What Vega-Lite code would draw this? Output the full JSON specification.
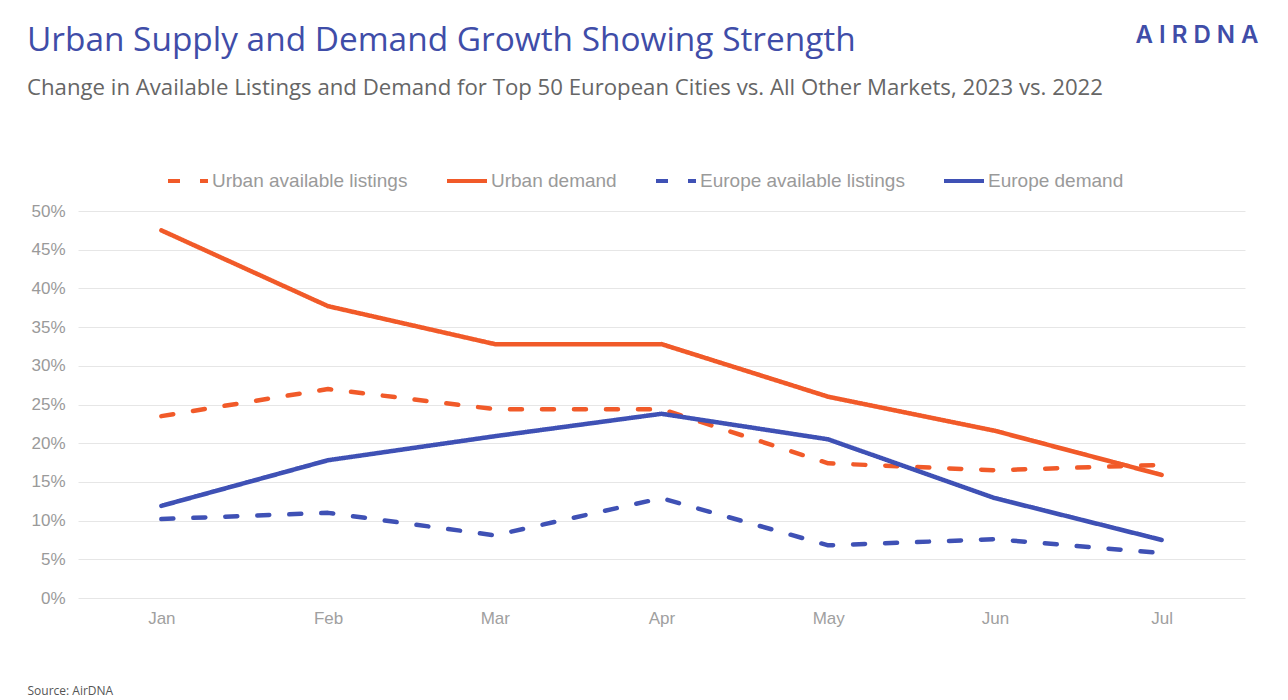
{
  "$schema": "https://vega.github.io/schema/vega-lite/v6.json",
  "width": 1167,
  "height": 387,
  "autosize": "none",
  "padding": {"left": 78, "top": 211, "right": 43, "bottom": 102},
  "background": "white",
  "title": {
    "text": "Urban Supply and Demand Growth Showing Strength",
    "subtitle": "Change in Available Listings and Demand for Top 50 European Cities vs. All Other Markets, 2023 vs. 2022",
    "anchor": "start",
    "frame": "group",
    "dx": -51,
    "offset": -77,
    "font": "Open Sans",
    "fontSize": 33.4,
    "fontWeight": "normal",
    "color": "#3F4DA8",
    "subtitleFont": "Open Sans",
    "subtitleFontSize": 22.2,
    "subtitleColor": "#666666",
    "subtitlePadding": 18
  },
  "data": {
    "values": [
      {"month": "Jan", "series": "Urban available listings", "value": 0.235},
      {"month": "Feb", "series": "Urban available listings", "value": 0.270},
      {"month": "Mar", "series": "Urban available listings", "value": 0.244},
      {"month": "Apr", "series": "Urban available listings", "value": 0.244},
      {"month": "May", "series": "Urban available listings", "value": 0.174},
      {"month": "Jun", "series": "Urban available listings", "value": 0.165},
      {"month": "Jul", "series": "Urban available listings", "value": 0.172},
      {"month": "Jan", "series": "Urban demand", "value": 0.475},
      {"month": "Feb", "series": "Urban demand", "value": 0.377},
      {"month": "Mar", "series": "Urban demand", "value": 0.328},
      {"month": "Apr", "series": "Urban demand", "value": 0.328},
      {"month": "May", "series": "Urban demand", "value": 0.260},
      {"month": "Jun", "series": "Urban demand", "value": 0.216},
      {"month": "Jul", "series": "Urban demand", "value": 0.159},
      {"month": "Jan", "series": "Europe available listings", "value": 0.102},
      {"month": "Feb", "series": "Europe available listings", "value": 0.110},
      {"month": "Mar", "series": "Europe available listings", "value": 0.081},
      {"month": "Apr", "series": "Europe available listings", "value": 0.129},
      {"month": "May", "series": "Europe available listings", "value": 0.068},
      {"month": "Jun", "series": "Europe available listings", "value": 0.076},
      {"month": "Jul", "series": "Europe available listings", "value": 0.058},
      {"month": "Jan", "series": "Europe demand", "value": 0.119},
      {"month": "Feb", "series": "Europe demand", "value": 0.178},
      {"month": "Mar", "series": "Europe demand", "value": 0.209},
      {"month": "Apr", "series": "Europe demand", "value": 0.238},
      {"month": "May", "series": "Europe demand", "value": 0.205},
      {"month": "Jun", "series": "Europe demand", "value": 0.129},
      {"month": "Jul", "series": "Europe demand", "value": 0.075}
    ]
  },
  "mark": {"type": "line", "strokeWidth": 4.5, "strokeCap": "round", "strokeJoin": "round"},
  "encoding": {
    "x": {
      "field": "month",
      "type": "ordinal",
      "sort": ["Jan", "Feb", "Mar", "Apr", "May", "Jun", "Jul"],
      "scale": {"type": "point", "padding": 0.5},
      "axis": {
        "labelAngle": 0,
        "ticks": false,
        "domain": false,
        "grid": false,
        "labelColor": "#a0a0a0",
        "labelFont": "Liberation Sans",
        "labelFontSize": 17,
        "labelPadding": 12,
        "title": "Source: AirDNA",
        "titleAnchor": "start",
        "titleAlign": "left",
        "titleBaseline": "middle",
        "titleX": -51,
        "titleY": 92,
        "titleFont": "Open Sans",
        "titleFontSize": 12,
        "titleFontWeight": "normal",
        "titleColor": "#555555"
      }
    },
    "y": {
      "field": "value",
      "type": "quantitative",
      "scale": {"domain": [0, 0.5]},
      "axis": {
        "format": ".0%",
        "values": [0, 0.05, 0.1, 0.15, 0.2, 0.25, 0.3, 0.35, 0.4, 0.45, 0.5],
        "grid": true,
        "gridColor": "#e6e6e6",
        "gridWidth": 1,
        "domain": false,
        "ticks": false,
        "labelColor": "#9a9a9a",
        "labelFont": "Liberation Sans",
        "labelFontSize": 17,
        "labelPadding": 13,
        "title": "A I R D N A",
        "titleAngle": 0,
        "titleAlign": "right",
        "titleBaseline": "middle",
        "titleX": 1180,
        "titleY": -176,
        "titleFont": "Inter",
        "titleFontSize": 24,
        "titleFontWeight": 600,
        "titleColor": "#3F4DA8"
      }
    },
    "color": {
      "field": "series",
      "type": "nominal",
      "sort": ["Urban available listings", "Urban demand", "Europe available listings", "Europe demand"],
      "scale": {
        "domain": ["Urban available listings", "Urban demand", "Europe available listings", "Europe demand"],
        "range": ["#F15A29", "#F15A29", "#3F51B5", "#3F51B5"]
      },
      "legend": {"title": null}
    },
    "strokeDash": {
      "field": "series",
      "type": "nominal",
      "sort": ["Urban available listings", "Urban demand", "Europe available listings", "Europe demand"],
      "scale": {
        "domain": ["Urban available listings", "Urban demand", "Europe available listings", "Europe demand"],
        "range": [[12, 20], [1, 0], [12, 20], [1, 0]]
      },
      "legend": {"title": null}
    }
  },
  "config": {
    "view": {"stroke": null},
    "legend": {
      "orient": "none",
      "legendX": 88,
      "legendY": -52,
      "direction": "horizontal",
      "symbolType": "stroke",
      "symbolSize": 1600,
      "symbolStrokeWidth": 4,
      "labelFont": "Liberation Sans",
      "labelFontSize": 19,
      "labelColor": "#9a9a9a",
      "labelLimit": 0,
      "labelOffset": 2,
      "columnPadding": 31
    }
  }
}
